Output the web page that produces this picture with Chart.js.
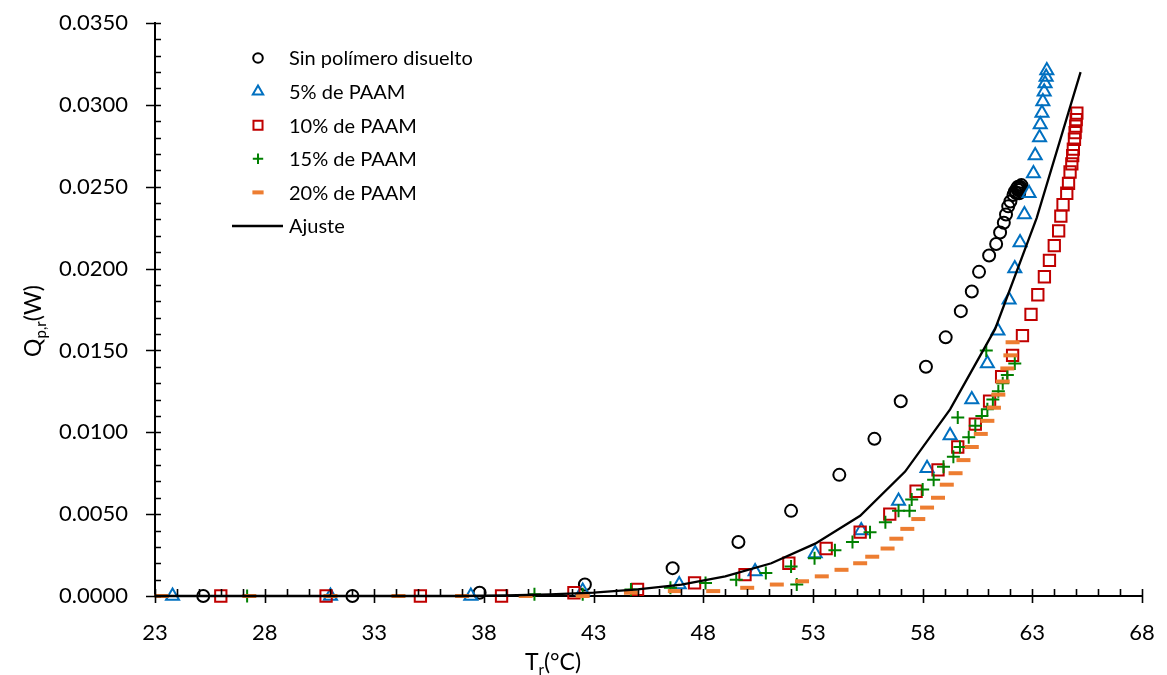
<!DOCTYPE html>
<html>
<head>
<meta charset="utf-8">
<script src="https://cdn.jsdelivr.net/npm/chart.js@4.4.1/dist/chart.umd.min.js"></script>
<style>
  html, body { margin: 0; padding: 0; background: #fff; }
  #wrap { width: 1167px; height: 675px; }
</style>
</head>
<body>
<div id="wrap"><canvas id="qChart" width="1167" height="675"></canvas></div>
<script>
// axis ranges and ticks
const xMin = 23, xMax = 68, xStep = 5;
const yMin = 0, yMax = 0.035, yStep = 0.005, yMinor = 0.001;

// Sin polimero disuelto
const sinX = [25.2, 32.0, 37.8, 42.6, 46.6, 49.6, 52.0, 54.2, 55.8, 57.0, 58.15, 59.05, 59.74, 60.24, 60.57, 61.03, 61.35, 61.53, 61.7, 61.8, 61.9, 62.0, 62.14, 62.2, 62.3, 62.37, 62.45, 62.4, 62.35, 62.42, 62.28, 62.5];
const sinY = [0, 0, 0.0002, 0.0007, 0.0017, 0.0033, 0.0052, 0.0074, 0.0096, 0.0119, 0.0140, 0.0158, 0.0174, 0.0186, 0.0198, 0.0208, 0.0215, 0.0222, 0.0228, 0.0233, 0.0238, 0.0241, 0.0245, 0.0247, 0.0249, 0.0248, 0.0250, 0.0246, 0.0250, 0.0249, 0.0246, 0.0251];

// 5% de PAAM
const p5X = [23.8, 31.0, 37.4, 42.5, 46.9, 50.36, 53.1, 55.2, 56.9, 58.2, 59.25, 60.24, 60.95, 61.43, 61.94, 62.2, 62.44, 62.64, 62.85, 63.05, 63.13, 63.33, 63.36, 63.44, 63.48, 63.54, 63.58, 63.63, 63.66];
const p5Y = [0, 0, 0, 0.0003, 0.0007, 0.0015, 0.0026, 0.0040, 0.0058, 0.0078, 0.0098, 0.0120, 0.0142, 0.0162, 0.0181, 0.0200, 0.0216, 0.0233, 0.0246, 0.0258, 0.0269, 0.0280, 0.0288, 0.0295, 0.0302, 0.0308, 0.0313, 0.0317, 0.0321];

// 10% de PAAM
const p10X = [26.0, 30.8, 35.1, 38.8, 42.1, 45.0, 47.6, 49.9, 51.9, 53.6, 55.15, 56.5, 57.7, 58.7, 59.6, 60.4, 61.05, 61.6, 62.1, 62.55, 62.94, 63.25, 63.55, 63.78, 64.0, 64.2, 64.3, 64.4, 64.57, 64.65, 64.72, 64.8, 64.84, 64.87, 64.92, 64.95, 64.98, 65.0, 65.03];
const p10Y = [0, 0, 0, 0, 0.0002, 0.0004, 0.0008, 0.0013, 0.0020, 0.0029, 0.0039, 0.0050, 0.0064, 0.0077, 0.0091, 0.0105, 0.0119, 0.0134, 0.0147, 0.0159, 0.0172, 0.0184, 0.0195, 0.0205, 0.0214, 0.0223, 0.0232, 0.0239, 0.0246, 0.0252, 0.0259, 0.0264, 0.0269, 0.0273, 0.0279, 0.0283, 0.0287, 0.0291, 0.0295];

// 15% de PAAM
const p15X = [27.2, 40.3, 42.5, 44.7, 46.5, 48.1, 49.5, 50.85, 52.0, 52.26, 53.07, 54.0, 54.8, 55.6, 56.3, 56.9, 57.4, 57.5, 58.0, 58.5, 58.95, 59.4, 59.7, 59.6, 60.1, 60.4, 60.7, 60.95, 61.2, 61.45, 61.65, 61.86, 62.2, 60.9];
const p15Y = [0, 0.0001, 0.0001, 0.0004, 0.0005, 0.0008, 0.0010, 0.0014, 0.0018, 0.0007, 0.0023, 0.0028, 0.0033, 0.0039, 0.0045, 0.0052, 0.0052, 0.0059, 0.0065, 0.0071, 0.0079, 0.0085, 0.0091, 0.0109, 0.0097, 0.0104, 0.0110, 0.0114, 0.0120, 0.0125, 0.0130, 0.0135, 0.0142, 0.0150];

// 20% de PAAM
const p20X = [23.3, 27.3, 31.0, 34.1, 37.0, 39.9, 42.5, 44.7, 46.7, 48.45, 50.0, 51.35, 52.5, 53.4, 54.3, 55.15, 55.7, 56.4, 56.8, 57.3, 57.8, 58.2, 58.7, 59.1, 59.5, 59.86, 60.24, 60.65, 60.95, 61.25, 61.45, 61.65, 61.86, 62.0, 62.1];
const p20Y = [0, 0, 0, 0, 0, 0, 0, 0.0002, 0.0003, 0.0003, 0.0005, 0.0007, 0.0009, 0.0012, 0.0016, 0.0020, 0.0024, 0.0029, 0.0035, 0.0041, 0.0047, 0.0054, 0.0060, 0.0068, 0.0075, 0.0083, 0.0091, 0.0099, 0.0107, 0.0115, 0.0123, 0.0131, 0.0139, 0.0147, 0.0155];

// Ajuste
const fitX = [23, 25, 27, 29, 31, 33, 35, 37, 39, 41, 43, 45, 47, 49, 51.1, 53.1, 55.15, 57.2, 59.25, 61.3, 63.2, 65.2];
const fitY = [0, 0, 0, 0, 0, 0, 0, 0, 0.00003, 0.0001, 0.0002, 0.0004, 0.0007, 0.0012, 0.0020, 0.0032, 0.0049, 0.0076, 0.0114, 0.0163, 0.0231, 0.0320];

const labels = ["Sin polímero disuelto", "5% de PAAM", "10% de PAAM", "15% de PAAM", "20% de PAAM", "Ajuste"];

function pts(xs, ys) {
    return xs.map((x, i) => ({ x: x, y: ys[i] }));
}

function markerSet(label, xs, ys, color, style, radius, width, order) {
    return {
        label: label,
        data: pts(xs, ys),
        showLine: false,
        pointStyle: style,
        pointRadius: radius,
        pointHoverRadius: radius,
        pointBorderColor: color,
        pointBackgroundColor: 'rgba(0,0,0,0)',
        pointBorderWidth: width,
        borderColor: color,
        clip: false,
        order: order
    };
}

const tickFont = { family: 'Lato', size: 22 };

// don't let tick label overflow push the plot area around
function noPad(s) {
    s.paddingTop = 0; s.paddingBottom = 0; s.paddingLeft = 0; s.paddingRight = 0;
}

// minor/major tick marks, axis titles with subscripts, legend
const decor = {
    id: 'decor',
    afterDraw(chart) {
        const ctx = chart.ctx, xs = chart.scales.x, ys = chart.scales.y, a = chart.chartArea;
        ctx.save();
        ctx.strokeStyle = '#000';
        ctx.lineWidth = 1.6;
        ctx.beginPath();
        for (let v = xMin; v <= xMax; v++) {
            const px = Math.round(xs.getPixelForValue(v)) + 0.5;
            const major = (v - xMin) % xStep === 0;
            ctx.moveTo(px, a.bottom - 7);
            ctx.lineTo(px, major ? a.bottom + 7 : a.bottom);
        }
        const n = Math.round((yMax - yMin) / yMinor);
        for (let i = 0; i <= n; i++) {
            const py = Math.round(ys.getPixelForValue(yMin + i * yMinor)) + 0.5;
            const major = i % 5 === 0;
            ctx.moveTo(major ? a.left - 9 : a.left, py);
            ctx.lineTo(a.left + 6, py);
        }
        ctx.stroke();

        // axis titles
        ctx.fillStyle = '#000';
        ctx.textBaseline = 'alphabetic';
        drawSub(ctx, [['T', 0], ['r', 1], ['(°C)', 0]], 553, 670, 23);
        ctx.save();
        ctx.translate(33, 321);
        ctx.rotate(-Math.PI / 2);
        drawSub(ctx, [['Q', 0], ['p,r', 1], ['(W)', 0]], 0, 8, 23);
        ctx.restore();

        // legend
        const lx = 258, tx = 289, y0 = 58, dy = 33.6;
        ctx.font = '20px Lato';
        ctx.textBaseline = 'middle';
        chart.data.datasets.forEach((ds, i) => {
            const y = y0 + i * dy;
            ctx.fillStyle = '#000';
            ctx.fillText(labels[i], tx, y + 1);
            if (ds.showLine) {
                ctx.strokeStyle = ds.borderColor;
                ctx.lineWidth = ds.borderWidth;
                ctx.beginPath();
                ctx.moveTo(232, y);
                ctx.lineTo(283, y);
                ctx.stroke();
            } else {
                ctx.strokeStyle = ds.pointBorderColor;
                ctx.fillStyle = 'rgba(0,0,0,0)';
                ctx.lineWidth = ds.pointBorderWidth;
                Chart.helpers.drawPoint(ctx, {
                    pointStyle: ds.pointStyle,
                    radius: ds.pointRadius * 0.8,
                    rotation: 0,
                    borderWidth: ds.pointBorderWidth
                }, lx, y);
            }
        });
        ctx.restore();
    }
};

function drawSub(ctx, parts, cx, y, size) {
    const big = size + 'px Lato', small = Math.round(size * 0.65) + 'px Lato';
    let w = 0;
    parts.forEach(p => { ctx.font = p[1] ? small : big; w += ctx.measureText(p[0]).width; });
    let x = cx - w / 2;
    ctx.textAlign = 'left';
    parts.forEach(p => {
        ctx.font = p[1] ? small : big;
        ctx.fillText(p[0], x, p[1] ? y + 5 : y);
        x += ctx.measureText(p[0]).width;
    });
}

new Chart(document.getElementById('qChart'), {
    type: 'scatter',
    data: {
        datasets: [
            markerSet(labels[0], sinX, sinY, '#000000', 'circle', 6, 2, 6),
            markerSet(labels[1], p5X, p5Y, '#0070C0', 'triangle', 7.5, 2, 5),
            markerSet(labels[2], p10X, p10Y, '#C00000', 'rect', 8, 2, 4),
            markerSet(labels[3], p15X, p15Y, '#008000', 'cross', 6.5, 2, 3),
            markerSet(labels[4], p20X, p20Y, '#ED7D31', 'line', 7, 4, 2),
            {
                label: labels[5],
                data: pts(fitX, fitY),
                showLine: true,
                borderColor: '#000000',
                borderWidth: 2.3,
                pointRadius: 0,
                tension: 0,
                clip: false,
                order: 1
            }
        ]
    },
    options: {
        responsive: false,
        animation: false,
        events: [],
        layout: { padding: { left: 0, right: 25, top: 23, bottom: 0 } },
        plugins: { legend: { display: false }, tooltip: { enabled: false } },
        scales: {
            x: {
                type: 'linear',
                min: xMin, max: xMax,
                afterFit: s => { s.height = 79; noPad(s); },
                grid: { display: false, drawTicks: false },
                border: { display: true, color: '#000', width: 2 },
                ticks: { stepSize: xStep, padding: 24, color: '#000', font: tickFont, maxRotation: 0 }
            },
            y: {
                type: 'linear',
                min: yMin, max: yMax,
                afterFit: s => { s.width = 155; noPad(s); },
                grid: { display: false, drawTicks: false },
                border: { display: true, color: '#000', width: 2 },
                ticks: { stepSize: yStep, padding: 27, color: '#000', font: tickFont, callback: v => v.toFixed(4) }
            }
        }
    },
    plugins: [decor]
});
</script>
</body>
</html>
